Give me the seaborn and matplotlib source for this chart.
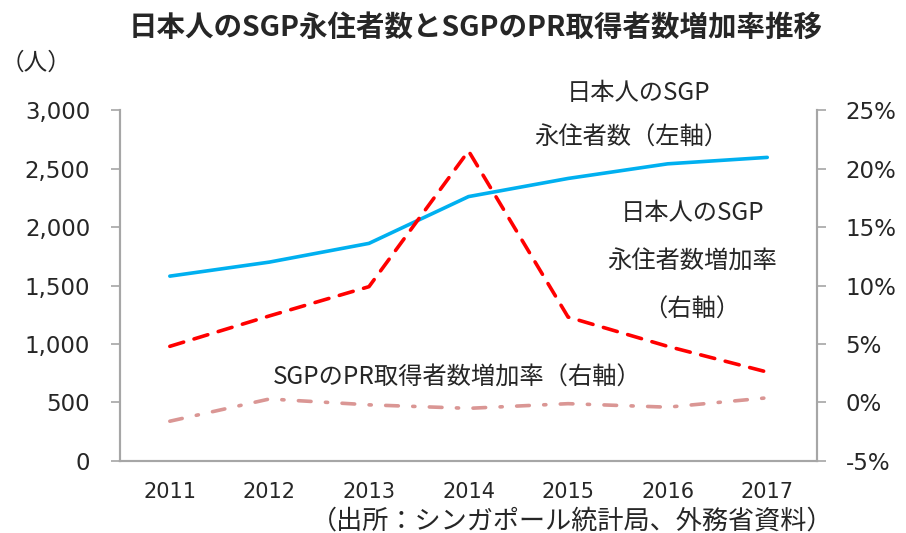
"""日本人のSGP永住者数とSGPのPR取得者数増加率推移"""

import pandas as pd
import matplotlib
matplotlib.use("Agg")
import matplotlib.pyplot as plt
import matplotlib.ticker as mticker
import seaborn as sns

years = ["2011", "2012", "2013", "2014", "2015", "2016", "2017"]
residents = [1580, 1700, 1860, 2260, 2415, 2540, 2595]  # 左軸 (人)
resident_growth = [4.8, 7.4, 9.9, 21.5, 7.3, 4.8, 2.6]  # 右軸 (%)
pr_growth = [-1.6, 0.3, -0.2, -0.5, -0.1, -0.4, 0.4]  # 右軸 (%)

BLUE = "#00B0F0"
RED = "#FF0000"
PINK = "#DA9694"
GRAY = "#A6A6A6"

df = pd.DataFrame({
    "idx": range(len(years)),
    "residents": residents,
    "resident_growth": resident_growth,
    "pr_growth": pr_growth,
})

sns.set_style("white")
plt.rcParams["font.family"] = ["DejaVu Sans", "Noto Sans CJK JP"]

fig = plt.figure(figsize=(9.06, 5.33), dpi=100)
ax = fig.add_axes([0.1325, 0.1351, 0.7693, 0.6585])
ax2 = ax.twinx()

sns.lineplot(data=df, x="idx", y="residents", ax=ax, color=BLUE, linewidth=2.6)
sns.lineplot(data=df, x="idx", y="resident_growth", ax=ax2, color=RED,
             linewidth=2.6, dashes=False)
sns.lineplot(data=df, x="idx", y="pr_growth", ax=ax2, color=PINK, linewidth=2.6)
ax2.lines[0].set_dashes([4, 3])
ax2.lines[1].set_dashes([3.5, 4, 0.6, 4])
for ln in ax2.lines:
    ln.set_dash_capstyle("round")

ax.set_xlim(-0.5, 6.5)
ax.set_ylim(0, 3000)
ax2.set_ylim(-5, 25)
ax.set_xticks(range(len(years)))
ax.set_xticklabels(years, fontsize=15)
ax.set_xticks([i - 0.5 for i in range(len(years) + 1)], minor=True)
ax.set_yticks(range(0, 3001, 500))
ax.yaxis.set_major_formatter(mticker.FuncFormatter(lambda v, p: f"{int(v):,}"))
ax2.set_yticks(range(-5, 26, 5))
ax2.yaxis.set_major_formatter(mticker.FuncFormatter(lambda v, p: f"{int(v)}%"))
ax.set_xlabel("")
ax.set_ylabel("")
ax2.set_ylabel("")

ax.tick_params(axis="x", which="major", length=0, pad=15)
ax.tick_params(axis="x", which="minor", length=6.5, width=1.2, color=GRAY, direction="out")
ax.tick_params(axis="y", length=6.5, width=1.2, color=GRAY, labelsize=16.5, pad=15)
ax2.tick_params(axis="y", length=6.5, width=1.2, color=GRAY, labelsize=16.5, pad=14)

for a in (ax, ax2):
    a.spines["top"].set_visible(False)
    for s in ("left", "right", "bottom"):
        a.spines[s].set_color(GRAY)
        a.spines[s].set_linewidth(1.5)
    a.grid(False)

fig.text(476 / 906, 1 - 28 / 533, "日本人のSGP永住者数とSGPのPR取得者数増加率推移",
         ha="center", va="center", fontsize=20.5, fontweight="bold",
         family=["Noto Sans CJK JP"])
fig.text(36 / 906, 1 - 63 / 533, "（人）", ha="center", va="center", fontsize=17,
         family=["Noto Sans CJK JP"])
fig.text(833 / 906, 1 - 521 / 533, "（出所：シンガポール統計局、外務省資料）",
         ha="right", va="center", fontsize=18.8, family=["Noto Sans CJK JP"])

label_kw = dict(ha="center", va="center", fontsize=17.5, family=["Noto Sans CJK JP"])
fig.text(639 / 906, 1 - 93 / 533, "日本人のSGP", **label_kw)
fig.text(631 / 906, 1 - 138 / 533, "永住者数（左軸）", **label_kw)
fig.text(693 / 906, 1 - 213 / 533, "日本人のSGP", **label_kw)
fig.text(692 / 906, 1 - 262 / 533, "永住者数増加率", **label_kw)
fig.text(692 / 906, 1 - 310 / 533, "（右軸）", **label_kw)
fig.text(457 / 906, 1 - 378 / 533, "SGPのPR取得者数増加率（右軸）", **label_kw)

fig.savefig("out.png", dpi=100)
plt.close(fig)
